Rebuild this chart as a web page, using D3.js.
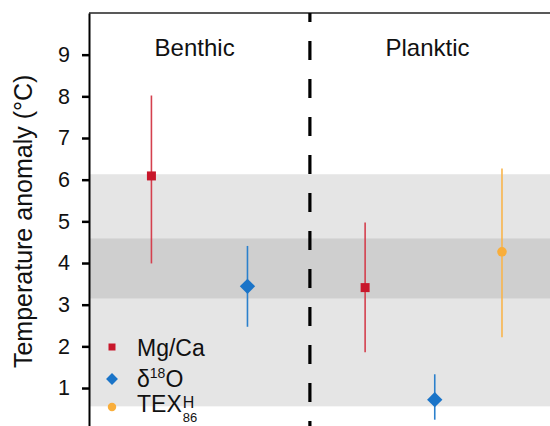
<!DOCTYPE html>
<html>
<head>
<meta charset="utf-8">
<script src="https://cdn.jsdelivr.net/npm/d3@7"></script>
<style>
  body { margin: 0; background: #fff; }
  svg { display: block; font-family: "Liberation Sans", Arial, sans-serif; }
</style>
</head>
<body>
<div id="app"></div>
<script>
// data
const groups = ['Benthic', 'Planktic']
const groupSlot = [2.2, 7.05]
const dividerSlot = 4.6
const proxies = ['Mg/Ca', 'δ18O', 'TEX86H']
const pointGroup = ['Benthic', 'Benthic', 'Planktic', 'Planktic', 'Planktic']
const pointProxy = ['Mg/Ca', 'δ18O', 'Mg/Ca', 'δ18O', 'TEX86H']
const pointSlot = [1.3, 3.3, 5.75, 7.2, 8.6]
const pointMean = [6.09, 3.44, 3.41, 0.72, 4.27]
const pointLow = [3.99, 2.47, 1.86, 0.24, 2.22]
const pointHigh = [8.02, 4.41, 4.97, 1.33, 6.27]
const bandOuter = [0.56, 6.13]
const bandInner = [3.15, 4.59]
const yTicks = [1, 2, 3, 4, 5, 6, 7, 8, 9]

const W = 550, H = 426
const points = pointSlot.map((s, i) => ({slot: s, group: pointGroup[i], proxy: pointProxy[i],
  mean: pointMean[i], lo: pointLow[i], hi: pointHigh[i]}))

const svg = d3.select('#app').append('svg').attr('width', W).attr('height', H)

const x = d3.scaleLinear().domain([0, 9.6]).range([89, 550])
const y = d3.scaleLinear().domain([0, 10]).range([429.7, 13])

const markColor = d3.scaleOrdinal().domain(proxies).range(['#c8172b', '#1a74c8', '#f9ae3b'])
const lineColor = d3.scaleOrdinal().domain(proxies).range(['#d4404e', '#2b80cc', '#f9b54d'])
const shape = d3.scaleOrdinal().domain(proxies).range([d3.symbolSquare, d3.symbolDiamond2, d3.symbolCircle])
const shapeSize = d3.scaleOrdinal().domain(proxies).range([81, 150, 72])

// shaded bands
svg.append('rect')
  .attr('x', x(0)).attr('width', x(9.6) - x(0))
  .attr('y', y(bandOuter[1])).attr('height', y(bandOuter[0]) - y(bandOuter[1]))
  .attr('fill', '#e5e5e5')
svg.append('rect')
  .attr('x', x(0)).attr('width', x(9.6) - x(0))
  .attr('y', y(bandInner[1])).attr('height', y(bandInner[0]) - y(bandInner[1]))
  .attr('fill', '#cfcfcf')

// top frame line
svg.append('line')
  .attr('x1', x(0)).attr('x2', x(9.6)).attr('y1', y(10)).attr('y2', y(10))
  .attr('stroke', '#222').attr('stroke-width', 1.6)

// divider
svg.append('line')
  .attr('x1', x(dividerSlot)).attr('x2', x(dividerSlot))
  .attr('y1', y(10)).attr('y2', H)
  .attr('stroke', '#000').attr('stroke-width', 3.2)
  .attr('stroke-dasharray', '19,19').attr('stroke-dashoffset', 10)

// group labels
svg.selectAll('text.group').data(groups).enter().append('text')
  .attr('class', 'group')
  .attr('x', (d, i) => x(groupSlot[i])).attr('y', 56)
  .attr('text-anchor', 'middle').attr('font-size', 24).attr('fill', '#111')
  .text(d => d)

// y axis
const yAxis = d3.axisLeft(y).tickValues(yTicks).tickSize(7).tickSizeOuter(0).tickPadding(12).tickFormat(d3.format('d'))
const ga = svg.append('g').attr('transform', `translate(${x(0)},0)`).call(yAxis)
ga.select('.domain').attr('stroke', '#000').attr('stroke-width', 2)
ga.selectAll('.tick line').attr('stroke', '#000').attr('stroke-width', 2.5)
ga.selectAll('.tick text').attr('font-size', 21.5).attr('fill', '#111')
  .attr('font-family', '"Liberation Sans", Arial, sans-serif')

svg.append('text')
  .attr('transform', `translate(32,${y(5)}) rotate(-90)`)
  .attr('text-anchor', 'middle').attr('font-size', 25).attr('fill', '#111')
  .text('Temperature anomaly (°C)')

// error bars
svg.selectAll('line.err').data(points).enter().append('line')
  .attr('class', 'err')
  .attr('x1', d => x(d.slot)).attr('x2', d => x(d.slot))
  .attr('y1', d => y(d.lo)).attr('y2', d => y(d.hi))
  .attr('stroke', d => lineColor(d.proxy)).attr('stroke-width', 1.6)

// markers
svg.selectAll('path.mark').data(points).enter().append('path')
  .attr('class', 'mark')
  .attr('transform', d => `translate(${x(d.slot)},${y(d.mean)})`)
  .attr('d', d => d3.symbol(shape(d.proxy), shapeSize(d.proxy))())
  .attr('fill', d => markColor(d.proxy))

// legend
const legY = [347, 379, 407]
const legSize = [49, 90, 56]
const leg = svg.append('g')
proxies.forEach((p, i) => {
  leg.append('path')
    .attr('transform', `translate(112,${legY[i]})`)
    .attr('d', d3.symbol(shape(p), legSize[i])())
    .attr('fill', markColor(p))
})
const fs = 23
leg.append('text').attr('x', 137).attr('y', legY[0] + 9).attr('font-size', fs).attr('fill', '#111').text('Mg/Ca')
const t2 = leg.append('text').attr('x', 137).attr('y', legY[1] + 8).attr('font-size', fs).attr('fill', '#111')
t2.append('tspan').text('δ')
t2.append('tspan').attr('font-size', 14).attr('dy', -9).text('18')
t2.append('tspan').attr('dy', 9).text('O')
const t3 = leg.append('text').attr('x', 137).attr('y', legY[2] + 5).attr('font-size', fs).attr('fill', '#111').text('TEX')
const tw = t3.node().getComputedTextLength()
leg.append('text').attr('x', 137 + tw + 1).attr('y', legY[2] + 1).attr('font-size', 16).attr('fill', '#111').text('H')
leg.append('text').attr('x', 137 + tw + 1).attr('y', legY[2] + 15).attr('font-size', 13).attr('fill', '#111').text('86')
</script>
</body>
</html>
